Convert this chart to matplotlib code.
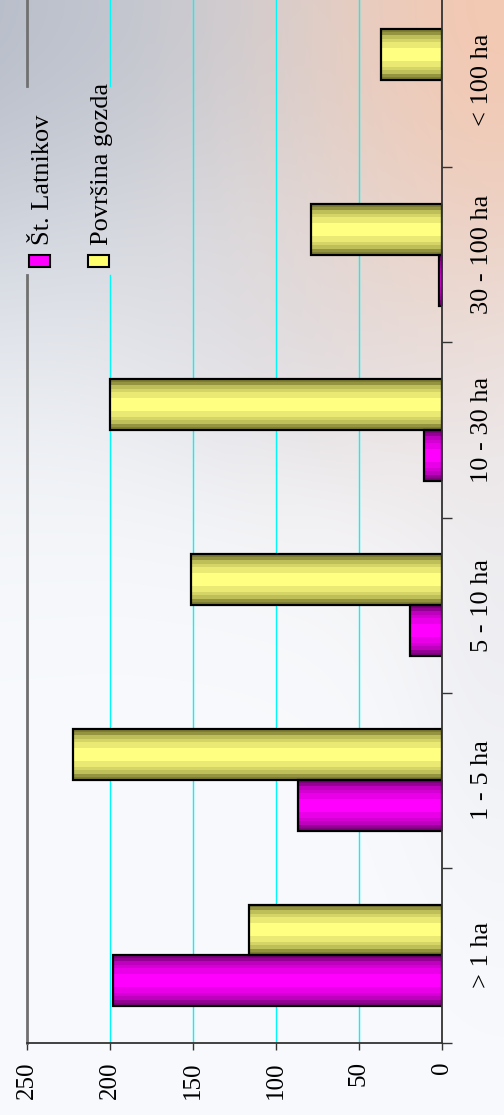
import numpy as np
import matplotlib.pyplot as plt
from matplotlib.patches import Rectangle

# data
categories = ["> 1 ha", "1 - 5 ha", "5 - 10 ha", "10 - 30 ha", "30 - 100 ha", "< 100 ha"]
st_latnikov = [198, 87, 19, 11, 2, 0]
povrsina_gozda = [116, 222, 151, 200, 79, 37]
series_names = ["Št. Latnikov", "Površina gozda"]
value_ticks = [0, 50, 100, 150, 200, 250]

W, H = 504, 1115
plt.rcParams['font.family'] = ['Liberation Serif', 'DejaVu Serif']

fig = plt.figure(figsize=(W / 100, H / 100), dpi=100)

# background gradient (decoration only)
yy, xx = np.mgrid[0:H, 0:W]
u = xx / W
v = yy / H
img = np.ones((H, W, 3)) * np.array([248, 250, 253]) / 255
gray = np.array([182, 188, 200]) / 255
peach = np.array([244, 200, 176]) / 255
mid = np.array([222, 222, 230]) / 255
g1 = 0.95 * np.exp(-(v / 0.3) ** 2) * (1 - 0.5 * u)
g2 = 0.95 * np.exp(-((1 - u) / 0.45) ** 2 - (v / 0.33) ** 2)
g3 = 0.5 * np.exp(-((v - 0.32) / 0.12) ** 2) * np.exp(-((u - 0.6) / 0.35) ** 2)
g4 = 0.35 * np.exp(-((1 - u) / 0.2) ** 2 - ((v - 0.55) / 0.25) ** 2)
for w, c in [(g3, mid), (g1, gray), (g2, peach), (g4, mid)]:
    img = img * (1 - w[..., None]) + c * w[..., None]
bg = fig.add_axes([0, 0, 1, 1], zorder=0)
bg.imshow(img, aspect='auto', extent=(0, 1, 0, 1))
bg.set_axis_off()

# main axes (value axis runs right -> left)
ax_left, ax_right = 27, 442
ax_bottom, ax_top = 1043, -8
ax = fig.add_axes([ax_left / W, (H - ax_bottom) / H, (ax_right - ax_left) / W,
                   (ax_bottom - ax_top) / H], zorder=1)
ax.patch.set_alpha(0)

y = np.arange(len(categories))
bw = 0.29


def shade(color_dark, color_bright, n=16):
    t = (np.arange(n) + 0.5) / n
    b = np.sin(np.pi * t) ** 0.7
    b = np.round(b * 8) / 8
    cols = np.array(color_dark)[None, :] + (np.array(color_bright) - np.array(color_dark))[None, :] * b[:, None]
    return (cols / 255)[:, None, :]


mag_grad = shade((85, 0, 85), (255, 0, 255))
yel_grad = shade((85, 85, 25), (255, 255, 130))

for i in range(len(categories)):
    for val, y0, grad in [(st_latnikov[i], y[i] - bw, mag_grad), (povrsina_gozda[i], y[i], yel_grad)]:
        if val > 0:
            ax.imshow(grad, extent=(0, val, y0, y0 + bw), aspect='auto',
                      interpolation='nearest', zorder=3)

ax.barh(y - bw, st_latnikov, height=bw, left=0, align='edge', fill=False,
        edgecolor='black', linewidth=1.6, zorder=4)
ax.barh(y, povrsina_gozda, height=bw, left=0, align='edge', fill=False,
        edgecolor='black', linewidth=1.6, zorder=4)

ax.set_xlim(250, 0)
ax.set_ylim(-0.5, len(categories) - 0.5)

# gridlines (cut where the legend sits)
gap_lo = (ax_bottom - 275) / (ax_bottom - ax_top)
gap_hi = (ax_bottom - 86) / (ax_bottom - ax_top)
for val in [50, 100, 150]:
    ax.axvline(val, color='#00f8f8', lw=1, zorder=1)
ax.axvline(200, 0, gap_lo, color='#00f8f8', lw=1, zorder=1)
ax.axvline(200, gap_hi, 1, color='#00f8f8', lw=1, zorder=1)
ax.axvline(250, 0, gap_lo, color='#707070', lw=2, zorder=2, clip_on=False)
ax.axvline(250, gap_hi, 1, color='#707070', lw=2, zorder=2, clip_on=False)

for s in ['top', 'left']:
    ax.spines[s].set_visible(False)
for s in ['bottom', 'right']:
    ax.spines[s].set_color('#333333')
    ax.spines[s].set_linewidth(1.3)
    ax.spines[s].set_zorder(5)

ax.set_xticks(value_ticks)
ax.set_xticklabels([str(t) for t in value_ticks], rotation=90, fontsize=18)
ax.tick_params(axis='x', direction='out', length=5, width=1, color='#333333', pad=8)

ax.yaxis.tick_right()
ax.set_yticks(y)
ax.set_yticklabels(categories, rotation=90, va='center', fontsize=19)
ax.set_yticks(np.arange(len(categories) + 1) - 0.5, minor=True)
ax.tick_params(axis='y', which='major', length=0, pad=21)
ax.tick_params(axis='y', which='minor', direction='out', length=7, width=1, color='#333333')

# legend, drawn rotated like the rest of the chart
legend_items = [(series_names[0], (255, 0, 255), 29, 49), (series_names[1], (255, 255, 110), 88, 108)]
for name, col, x0, xb in legend_items:
    fig.add_artist(Rectangle((x0 / W, (H - 267) / H), 21 / W, 12 / H,
                             transform=fig.transFigure, facecolor=np.array(col) / 255,
                             edgecolor='black', lw=1.5, zorder=6))
    fig.text(xb / W, (H - 245) / H, name, rotation=90, rotation_mode='anchor',
             ha='left', va='baseline', fontsize=19, zorder=6)

fig.savefig("out.png", dpi=100)
